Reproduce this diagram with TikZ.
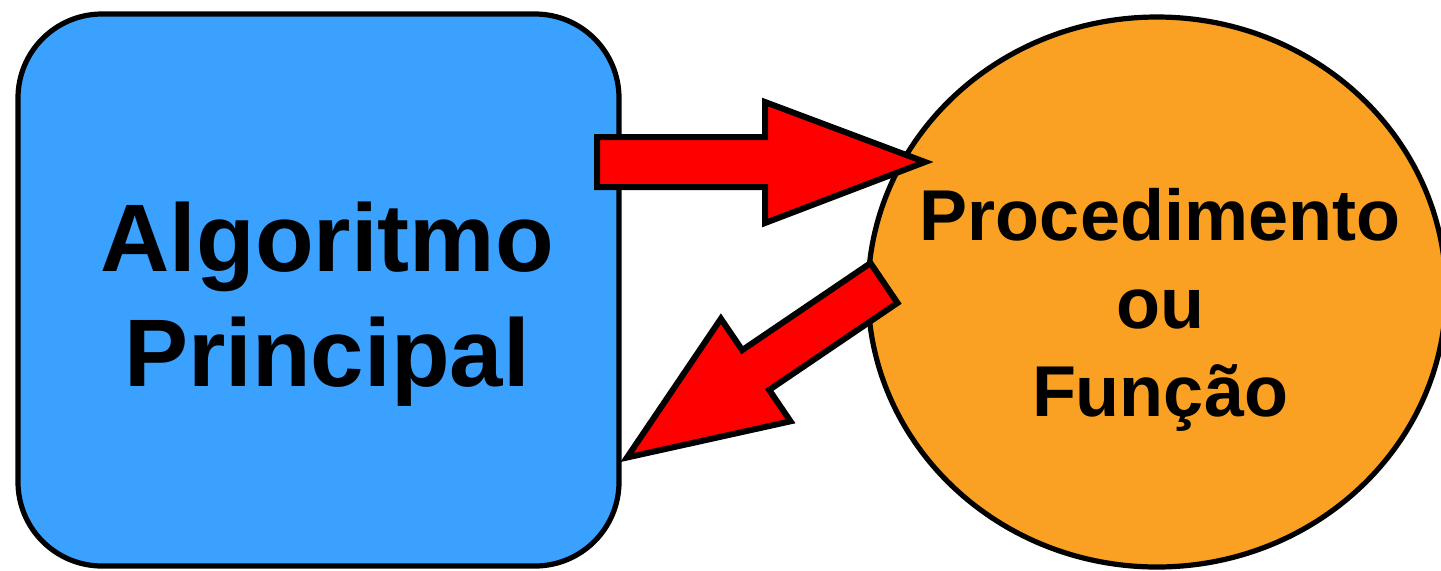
\documentclass[tikz,border=0pt]{standalone}
\usepackage{fontspec}
\setmainfont{Liberation Sans}
\usetikzlibrary{shapes.geometric}
\definecolor{boxblue}{RGB}{59,161,255}
\definecolor{procorange}{RGB}{250,161,36}
\definecolor{arrowred}{RGB}{255,0,0}
\begin{document}
\begin{tikzpicture}[x=0.5pt,y=-0.5pt,
  boxstyle/.style={draw=black, line width=2.6pt, fill=boxblue, rounded corners=42pt, inner sep=0pt},
  procstyle/.style={ellipse, draw=black, line width=2.6pt, fill=procorange, inner sep=0pt},
  bigtext/.style={font=\bfseries\fontsize{48}{57.5}\selectfont, align=center, inner sep=0pt},
  proctextstyle/.style={font=\bfseries\fontsize{36}{44}\selectfont, align=center, inner sep=0pt},
  blockarrow/.style={draw=black, fill=arrowred, line width=3pt, line join=miter}]
\useasboundingbox (0,0) rectangle (1441,570);
\clip (0,0) rectangle (1441,570);
% main algorithm box
\node[boxstyle, minimum width=300.5pt, minimum height=276pt] (alg) at (318.5,290) {};
\node[bigtext] (algtext) at (327,304) {Algoritmo\\Principal};
% procedure ellipse
\node[procstyle, minimum width=289pt, minimum height=275pt] (proc) at (1157,292) {};
\node[proctextstyle] (proctext) at (1160,310) {Procedimento\\ou\\Função};
% call arrow
\draw[blockarrow] (597,137) -- (765,137) -- (765,102) -- (925,162) -- (765,223) -- (765,187) -- (597,187) -- cycle;
% return arrow
\draw[blockarrow] (870.5,263.1) -- (742.2,350.1) -- (720.9,318.7) -- (627,457.5) -- (790.5,421.3) -- (769.2,389.9) -- (897.5,302.9) -- cycle;
\end{tikzpicture}
\end{document}
